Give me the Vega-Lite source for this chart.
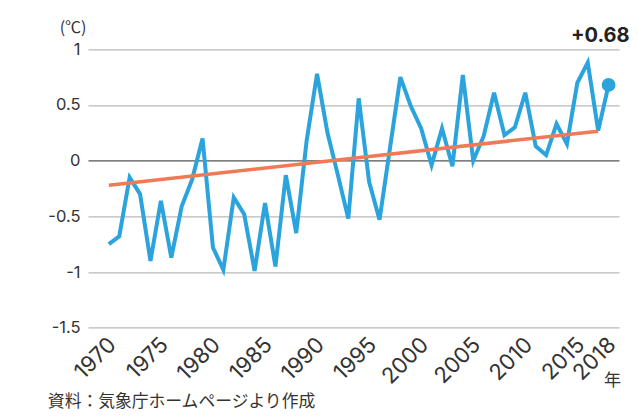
{
  "$schema": "https://vega.github.io/schema/vega-lite/v6.json",
  "width": 531,
  "height": 278.4,
  "autosize": "none",
  "padding": {"left": 88, "top": 49.3, "right": 19, "bottom": 89.3},
  "background": "white",
  "config": {"view": {"stroke": null}, "font": "Inter"},
  "title": {
    "text": "資料：気象庁ホームページより作成",
    "orient": "bottom",
    "anchor": "start",
    "frame": "bounds",
    "font": "Noto Sans CJK JP",
    "fontSize": 16.8,
    "fontWeight": "normal",
    "color": "#333333",
    "offset": 5
  },
  "datasets": {
    "temps": [
      {"year": 1970, "value": -0.75}, {"year": 1971, "value": -0.68}, {"year": 1972, "value": -0.15},
      {"year": 1973, "value": -0.30}, {"year": 1974, "value": -0.90}, {"year": 1975, "value": -0.36},
      {"year": 1976, "value": -0.87}, {"year": 1977, "value": -0.41}, {"year": 1978, "value": -0.17},
      {"year": 1979, "value": 0.20}, {"year": 1980, "value": -0.78}, {"year": 1981, "value": -0.98},
      {"year": 1982, "value": -0.33}, {"year": 1983, "value": -0.48}, {"year": 1984, "value": -0.99},
      {"year": 1985, "value": -0.38}, {"year": 1986, "value": -0.95}, {"year": 1987, "value": -0.13},
      {"year": 1988, "value": -0.65}, {"year": 1989, "value": 0.18}, {"year": 1990, "value": 0.78},
      {"year": 1991, "value": 0.25}, {"year": 1992, "value": -0.13}, {"year": 1993, "value": -0.52},
      {"year": 1994, "value": 0.56}, {"year": 1995, "value": -0.19}, {"year": 1996, "value": -0.53},
      {"year": 1997, "value": 0.11}, {"year": 1998, "value": 0.75}, {"year": 1999, "value": 0.49},
      {"year": 2000, "value": 0.29}, {"year": 2001, "value": -0.04}, {"year": 2002, "value": 0.29},
      {"year": 2003, "value": -0.05}, {"year": 2004, "value": 0.77}, {"year": 2005, "value": 0.00},
      {"year": 2006, "value": 0.22}, {"year": 2007, "value": 0.61}, {"year": 2008, "value": 0.23},
      {"year": 2009, "value": 0.30}, {"year": 2010, "value": 0.61}, {"year": 2011, "value": 0.13},
      {"year": 2012, "value": 0.05}, {"year": 2013, "value": 0.33}, {"year": 2014, "value": 0.15},
      {"year": 2015, "value": 0.70}, {"year": 2016, "value": 0.88}, {"year": 2017, "value": 0.27},
      {"year": 2018, "value": 0.68}
    ],
    "trend": [
      {"year": 1970, "value": -0.22},
      {"year": 2017, "value": 0.265}
    ],
    "latest": [
      {"year": 2018, "value": 0.68, "label": "+0.68"}
    ]
  },
  "layer": [
    {
      "data": {"name": "temps"},
      "mark": {"type": "line", "color": "#2ba3dc", "strokeWidth": 4, "strokeJoin": "miter"},
      "encoding": {
        "x": {
          "field": "year", "type": "quantitative",
          "scale": {"domain": [1968, 2019], "nice": false, "zero": false},
          "axis": {
            "values": [1970, 1975, 1980, 1985, 1990, 1995, 2000, 2005, 2010, 2015, 2018],
            "format": "d",
            "labelAngle": -45,
            "grid": false, "ticks": false, "domain": false,
            "labelFont": "Inter", "labelFontSize": 22, "labelColor": "#333333",
            "labelPadding": 6, "labelOffset": -4,
            "labelOverlap": false,
            "title": "年",
            "titleX": 524, "titleY": 53,
            "titleAlign": "center", "titleBaseline": "middle",
            "titleFont": "Noto Sans CJK JP", "titleFontSize": 17,
            "titleFontWeight": "normal", "titleColor": "#333333"
          }
        },
        "y": {
          "field": "value", "type": "quantitative",
          "scale": {"domain": [-1.5, 1], "nice": false, "zero": false},
          "axis": {
            "values": [-1.5, -1, -0.5, 0, 0.5, 1],
            "labelExpr": "toString(datum.value)",
            "grid": true,
            "gridColor": {"condition": {"test": "datum.value === 0", "value": "#555555"}, "value": "#b9b9b9"},
            "gridWidth": 1.3,
            "domain": false, "ticks": false,
            "labelPadding": 8,
            "labelFont": "Inter", "labelFontSize": 16.5, "labelColor": "#333333",
            "title": "(℃)",
            "titleAngle": 0, "titleX": -2, "titleY": -22,
            "titleAlign": "right", "titleBaseline": "middle",
            "titleFont": "Noto Sans CJK JP", "titleFontSize": 16,
            "titleFontWeight": "normal", "titleColor": "#333333"
          }
        }
      }
    },
    {
      "data": {"name": "trend"},
      "mark": {"type": "line", "color": "#f07a57", "strokeWidth": 3.5},
      "encoding": {
        "x": {"field": "year", "type": "quantitative"},
        "y": {"field": "value", "type": "quantitative"}
      }
    },
    {
      "data": {"name": "latest"},
      "mark": {"type": "point", "filled": true, "opacity": 1, "color": "#2ba3dc", "size": 190},
      "encoding": {
        "x": {"field": "year", "type": "quantitative"},
        "y": {"field": "value", "type": "quantitative"}
      }
    },
    {
      "data": {"name": "latest"},
      "mark": {"type": "text", "align": "right", "baseline": "middle", "dx": 21, "dy": -49, "font": "Inter", "fontSize": 20, "fontWeight": "bold", "color": "#222222"},
      "encoding": {
        "x": {"field": "year", "type": "quantitative"},
        "y": {"field": "value", "type": "quantitative"},
        "text": {"field": "label"}
      }
    }
  ]
}
